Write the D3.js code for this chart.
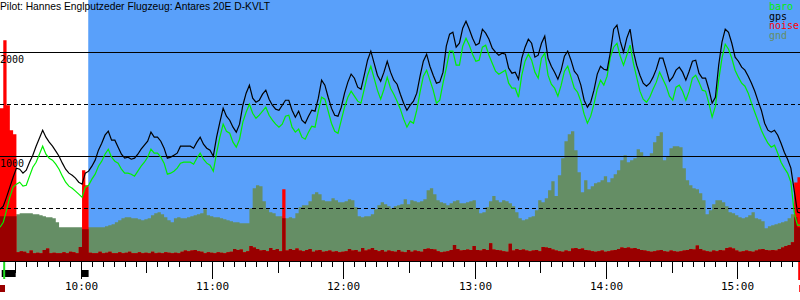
<!DOCTYPE html>
<html>
<head>
<meta charset="utf-8">
<script src="https://cdn.jsdelivr.net/npm/d3@7/dist/d3.min.js"></script>
<style>
  body { margin: 0; background: #fff; }
  svg { display: block; }
</style>
</head>
<body>
<svg id="svg" width="800" height="300"></svg>
<script>
// flight info and legend
const title = "Pilot: Hannes Englputzeder Flugzeug: Antares 20E D-KVLT";
const seriesNames = ["baro", "gps", "noise", "gnd"];

// time frame of the log (one sample every 90 s from startTime)
const startTime = "09:22:50", endTime = "15:28:30", stepSec = 90;
const freeFlightStart = "10:03:10";
const engineRuns = [["09:23:37", "09:30:00"], ["10:00:00", "10:03:20"]];
const takeoffTime = "09:24:45", landingTime = "15:28:08";

// altitude grid
const altGrid = [500, 1000, 1500, 2000];
const altLabels = [1000, 2000];

// series (m)
const gpsAlt = [
  493, 522, 609, 705, 801, 888, 878, 840, 868, 945,
  1013, 1099, 1176, 1253, 1186, 1138, 1099, 1051, 1003, 936,
  878, 840, 820, 792, 753, 734, 840, 859, 907, 965,
  1061, 1128, 1205, 1243, 1157, 1157, 1090, 1022, 984, 994,
  974, 984, 1022, 1070, 1109, 1147, 1234, 1186, 1186, 1147,
  1080, 984, 994, 1013, 1032, 1099, 1099, 1099, 1099, 1080,
  1138, 1186, 1118, 1080, 1061, 1003, 1186, 1330, 1465, 1388,
  1349, 1282, 1234, 1311, 1493, 1609, 1686, 1561, 1522, 1541,
  1599, 1638, 1551, 1493, 1455, 1445, 1493, 1541, 1541, 1445,
  1378, 1436, 1349, 1320, 1388, 1445, 1436, 1561, 1734, 1686,
  1570, 1465, 1397, 1388, 1474, 1609, 1715, 1792, 1753, 1667,
  1647, 1782, 1926, 2013, 1897, 1782, 1724, 1811, 1916, 1811,
  1734, 1695, 1599, 1513, 1445, 1493, 1532, 1609, 1772, 1916,
  1984, 1868, 1782, 1705, 1715, 1811, 2061, 2176, 2195, 2051,
  2089, 2234, 2301, 2224, 2137, 2070, 2089, 2224, 2186, 2128,
  2041, 2003, 1974, 1993, 1984, 1849, 1801, 1811, 1743, 1945,
  2051, 2128, 2089, 1955, 1974, 2089, 2157, 1945, 1868, 1811,
  1743, 1830, 1965, 2013, 1926, 1820, 1782, 1686, 1541, 1474,
  1522, 1638, 1792, 1868, 1839, 1830, 2003, 2224, 2263, 2109,
  2003, 2138, 2224, 2013, 1878, 1782, 1705, 1676, 1705, 1763,
  1840, 1945, 1945, 1840, 1724, 1763, 1830, 1859, 1811, 1734,
  1820, 1916, 1926, 1801, 1753, 1753, 1647, 1513, 1570, 1878,
  2099, 2224, 2195, 2089, 1955, 1916, 1859, 1830, 1772, 1705,
  1628, 1532, 1445, 1320, 1253, 1234, 1253, 1205, 1128, 1041,
  974, 888, 676, 465, 455
];
const baroAlt = [
  320, 368, 484, 609, 705, 734, 753, 715, 724, 811,
  897, 945, 1022, 1099, 1022, 984, 965, 926, 878, 811,
  753, 715, 695, 667, 638, 609, 705, 724, 782, 830,
  907, 955, 1022, 1070, 994, 955, 936, 878, 840, 840,
  830, 811, 859, 907, 945, 994, 1070, 1032, 1032, 994,
  936, 830, 840, 859, 888, 936, 945, 945, 945, 926,
  984, 1032, 974, 936, 916, 859, 1032, 1186, 1311, 1243,
  1224, 1138, 1090, 1166, 1330, 1426, 1503, 1416, 1368, 1397,
  1436, 1474, 1397, 1349, 1311, 1282, 1311, 1388, 1397, 1282,
  1234, 1263, 1186, 1166, 1234, 1292, 1282, 1436, 1570, 1551,
  1436, 1320, 1243, 1224, 1349, 1474, 1570, 1628, 1580, 1532,
  1513, 1647, 1782, 1868, 1753, 1638, 1551, 1647, 1763, 1657,
  1599, 1532, 1455, 1359, 1282, 1340, 1320, 1445, 1618, 1772,
  1830, 1734, 1638, 1513, 1541, 1705, 1849, 2013, 2013, 1878,
  1878, 2061, 2138, 2070, 1984, 1916, 1926, 2051, 2070, 1974,
  1897, 1820, 1791, 1811, 1830, 1705, 1657, 1657, 1570, 1782,
  1916, 1984, 1926, 1811, 1753, 1945, 1993, 1782, 1695, 1657,
  1580, 1686, 1820, 1868, 1763, 1657, 1618, 1532, 1407, 1320,
  1388, 1503, 1647, 1734, 1686, 1772, 1955, 2051, 2089, 1964,
  1878, 1974, 2070, 1897, 1763, 1628, 1551, 1522, 1570, 1647,
  1715, 1811, 1743, 1676, 1580, 1541, 1667, 1686, 1628, 1541,
  1628, 1753, 1782, 1715, 1638, 1628, 1513, 1378, 1484, 1734,
  1945, 2080, 2032, 1945, 1830, 1763, 1705, 1676, 1609, 1513,
  1426, 1340, 1253, 1186, 1128, 1090, 1109, 1032, 945, 888,
  840, 753, 465, 340, 340
];
const noiseVal = [
  1464, 2118, 1493, 1253, 1215, 80, 90, 85, 70, 95,
  70, 75, 70, 100, 115, 70, 75, 70, 70, 80,
  70, 85, 80, 70, 130, 868, 724, 75, 70, 70,
  85, 70, 75, 85, 70, 70, 80, 70, 75, 85,
  70, 70, 80, 70, 75, 70, 85, 70, 75, 70,
  80, 75, 70, 75, 70, 85, 95, 90, 95, 100,
  90, 85, 70, 80, 75, 70, 80, 75, 70, 80,
  85, 110, 100, 105, 80, 90, 140, 125, 110, 95,
  100, 90, 120, 100, 110, 90, 686, 95, 110, 100,
  115, 95, 90, 100, 110, 85, 95, 100, 85, 90,
  95, 85, 90, 80, 85, 90, 110, 95, 100, 85,
  120, 95, 105, 120, 100, 90, 100, 85, 95, 90,
  85, 100, 85, 80, 100, 85, 95, 90, 85, 110,
  115, 110, 105, 90, 80, 85, 90, 100, 150, 110,
  95, 100, 105, 100, 140, 100, 95, 110, 100, 165,
  105, 100, 95, 90, 85, 160, 95, 110, 100, 105,
  95, 90, 95, 100, 90, 130, 125, 120, 105, 95,
  90, 85, 95, 90, 115, 120, 110, 115, 100, 95,
  90, 85, 90, 95, 85, 90, 95, 100, 110, 125,
  120, 125, 115, 120, 110, 100, 95, 90, 85, 90,
  95, 100, 90, 85, 95, 90, 85, 90, 95, 100,
  110, 105, 145, 110, 95, 90, 85, 95, 90, 100,
  95, 120, 125, 115, 95, 85, 90, 95, 90, 85,
  95, 105, 110, 100, 95, 100, 95, 110, 125, 140,
  150, 175, 750, 800, 800
];
const gndAlt = [
  426, 426, 426, 426, 426, 445, 455, 455, 455, 455,
  445, 445, 436, 426, 417, 417, 407, 368, 320, 320,
  320, 320, 320, 320, 320, 301, 301, 320, 320, 320,
  320, 320, 330, 340, 349, 368, 388, 407, 417, 417,
  407, 407, 397, 388, 397, 407, 436, 455, 465, 445,
  417, 388, 368, 407, 417, 407, 407, 417, 426, 436,
  445, 455, 493, 436, 426, 417, 417, 407, 397, 388,
  378, 368, 368, 359, 359, 359, 503, 695, 724, 715,
  570, 493, 465, 455, 426, 426, 407, 407, 417, 407,
  455, 513, 532, 532, 570, 638, 657, 638, 580, 570,
  570, 599, 580, 561, 561, 570, 590, 580, 513, 426,
  417, 426, 426, 445, 493, 532, 561, 541, 522, 503,
  522, 532, 541, 590, 541, 580, 570, 561, 570, 590,
  676, 695, 638, 580, 561, 551, 532, 551, 570, 580,
  551, 551, 561, 570, 580, 503, 455, 465, 513, 570,
  619, 580, 561, 580, 570, 551, 522, 465, 407, 388,
  397, 417, 426, 484, 580, 561, 599, 676, 763, 619,
  820, 984, 1147, 1215, 1243, 1061, 849, 657, 772, 686,
  715, 743, 753, 772, 811, 753, 791, 830, 868, 965,
  1013, 945, 965, 984, 1070, 1041, 1003, 994, 1032, 1138,
  1196, 1234, 965, 994, 1080, 1099, 1099, 1090, 888, 772,
  724, 695, 686, 647, 580, 445, 484, 541, 580, 580,
  561, 522, 465, 455, 436, 417, 407, 417, 436, 465,
  407, 397, 378, 311, 330, 340, 349, 359, 368, 378,
  407, 445, 417, 320, 320
];

// ---- drawing ----
var svg = d3.select("#svg"),
    W = +svg.attr("width"),
    plotBottom = 261;

const parse = d3.timeParse("%H:%M:%S");
const t0 = parse(startTime);
const times = gpsAlt.map((d, i) => new Date(t0.getTime() + i * stepSec * 1000));

let x = d3.scaleTime().domain([t0, parse(endTime)]).range([0, W]);
let y = d3.scaleLinear().domain([0, 2500]).range([260.5, 0.5]);

const mono = "'DejaVu Sans Mono', monospace";
const colBaro = "#00f000", colGps = "#000", colNoise = "#ff0000",
      colNoiseLow = "#990000", colGnd = "#658e65", colSky = "#59a0fa";

// free flight background
svg.append("rect")
  .attr("x", x(parse(freeFlightStart)))
  .attr("y", 0)
  .attr("width", W - x(parse(freeFlightStart)))
  .attr("height", plotBottom)
  .style("fill", colSky);

svg.append("text")
  .attr("x", 0).attr("y", 10)
  .attr("textLength", 270).attr("lengthAdjust", "spacingAndGlyphs")
  .style("font", "11px 'Liberation Sans', Arial, sans-serif")
  .text(title);

// ground
let gndArea = d3.area()
  .x((d, i) => x(times[i]))
  .y0(plotBottom)
  .y1(d => y(d))
  .curve(d3.curveStepAfter);

svg.append("defs").append("clipPath").attr("id", "gndClip")
  .append("path").attr("d", gndArea(gndAlt));

svg.append("path").attr("d", gndArea(gndAlt)).style("fill", colGnd);

// noise: bright red above ground, dark red inside ground
svg.append("path").attr("d", gndArea(noiseVal)).style("fill", colNoise);
svg.append("path").attr("d", gndArea(noiseVal))
  .attr("clip-path", "url(#gndClip)")
  .style("fill", colNoiseLow);

// altitude labels
svg.selectAll(".altLabel").data(altLabels).enter().append("text")
  .attr("x", 0)
  .attr("y", d => y(d) + 10.5)
  .style("font", "10px " + mono)
  .text(d => d);

// grid
svg.selectAll(".grid").data(altGrid).enter().append("line")
  .attr("x1", 0).attr("x2", W)
  .attr("y1", d => y(d)).attr("y2", d => y(d))
  .style("stroke", "#000")
  .style("stroke-width", 1)
  .style("stroke-dasharray", d => d % 1000 ? "4,3" : null);

// baro and gps
let altLine = d3.line().x((d, i) => x(times[i])).y(d => y(d));
svg.append("path").attr("d", altLine(baroAlt))
  .style("fill", "none").style("stroke", colBaro).style("stroke-width", 1.2);
svg.append("path").attr("d", altLine(gpsAlt))
  .style("fill", "none").style("stroke", colGps).style("stroke-width", 1.2);

// legend
const legendCol = [colBaro, colGps, colNoise, colGnd];
svg.selectAll(".legend").data(seriesNames).enter().append("text")
  .attr("x", 769)
  .attr("y", (d, i) => 10 + i * 9.7)
  .style("font", "10px " + mono)
  .style("fill", (d, i) => legendCol[i])
  .text(d => d);

// time axis
svg.append("line")
  .attr("x1", 0).attr("x2", W).attr("y1", 261.5).attr("y2", 261.5)
  .style("stroke", "#000");

let ticks = d3.timeMinute.every(5).range(x.domain()[0], x.domain()[1]);
svg.selectAll(".tick").data(ticks).enter().append("line")
  .attr("x1", d => Math.floor(x(d)) + 0.5)
  .attr("x2", d => Math.floor(x(d)) + 0.5)
  .attr("y1", 262)
  .attr("y2", d => d.getMinutes() === 0 ? 279 : (d.getMinutes() === 30 ? 273 : 267))
  .style("stroke", "#000");

let hours = d3.timeHour.every(1).range(x.domain()[0], x.domain()[1]);
svg.selectAll(".hourLabel").data(hours).enter().append("text")
  .attr("x", d => Math.floor(x(d)) + 0.5)
  .attr("y", 290)
  .attr("text-anchor", "middle")
  .style("font", "11px " + mono)
  .text(d3.timeFormat("%H:%M"));

// engine runs
svg.selectAll(".engine").data(engineRuns).enter().append("rect")
  .attr("x", d => x(parse(d[0])))
  .attr("y", 270)
  .attr("width", d => x(parse(d[1])) - x(parse(d[0])))
  .attr("height", 7)
  .style("fill", "#000");

// takeoff / landing marks
svg.append("rect")
  .attr("x", x(parse(takeoffTime)) - 1).attr("y", 262)
  .attr("width", 2).attr("height", 17)
  .style("fill", "#22dd22");
svg.append("rect")
  .attr("x", x(parse(landingTime)) - 1).attr("y", 262)
  .attr("width", 2).attr("height", 18)
  .style("fill", colNoise);
svg.append("rect")
  .attr("x", x(t0)).attr("y", 285)
  .attr("width", 5).attr("height", 7)
  .style("fill", colNoiseLow);
svg.append("rect")
  .attr("x", x(parse(landingTime))).attr("y", 285)
  .attr("width", 5).attr("height", 7)
  .style("fill", colNoise);
</script>
</body>
</html>
